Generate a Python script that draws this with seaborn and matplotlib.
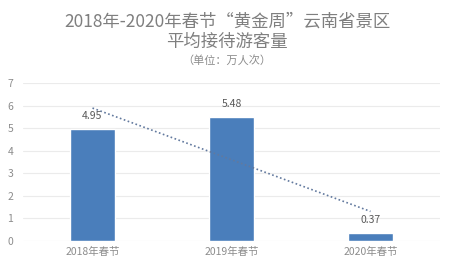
import matplotlib
matplotlib.use("Agg")
import matplotlib.pyplot as plt
import seaborn as sns
import numpy as np
import pandas as pd

categories = ["2018年春节", "2019年春节", "2020年春节"]
values = [4.95, 5.48, 0.37]
yticks = [0, 1, 2, 3, 4, 5, 6, 7]
title1 = "2018年-2020年春节“黄金周”云南省景区"
title2 = "平均接待游客量"
subtitle = "（单位：万人次）"

sns.set_theme(style="white")
plt.rcParams['font.family'] = ['Noto Sans CJK SC', 'DejaVu Sans']

df = pd.DataFrame({"cat": categories, "val": values})

fig = plt.figure(figsize=(4.54, 2.73), dpi=100)
ax = fig.add_axes([23/454, 32/273, 417/454, 158/273])

for y in yticks:
    ax.axhline(y, color="#ebebeb", lw=0.8, zorder=0)

sns.barplot(data=df, x="cat", y="val", color="#4a7ebb", width=0.32,
            saturation=1, ax=ax, zorder=2)

xs = np.arange(len(values))
coef = np.polyfit(xs, values, 1)
ax.plot(xs, np.polyval(coef, xs), linestyle=(0, (1, 1.5)), color="#62799e",
        lw=1.2, zorder=3)

for x, v in zip(xs, values):
    ax.text(x, v + 0.35, f"{v:.2f}", ha="center", va="bottom",
            fontsize=7.5, color="#595959")

ax.set_xlim(-0.5, 2.5)
ax.set_ylim(0, 7)
ax.set_yticks(yticks)
ax.set_xlabel("")
ax.set_ylabel("")
for s in ax.spines.values():
    s.set_visible(False)
ax.tick_params(axis="both", length=0, labelsize=7.5, colors="#8c8c8c")
ax.tick_params(axis="y", pad=7)
ax.tick_params(axis="x", pad=4)

fig.text(0.5, 1 - 22/273, title1, ha="center", va="center", fontsize=12.5,
         color="#7f7f7f")
fig.text(0.5, 1 - 42/273, title2, ha="center", va="center", fontsize=12.5,
         color="#7f7f7f")
fig.text(0.5, 1 - 60/273, subtitle, ha="center", va="center", fontsize=8,
         color="#8c8c8c")

fig.savefig("out.png", dpi=100)
